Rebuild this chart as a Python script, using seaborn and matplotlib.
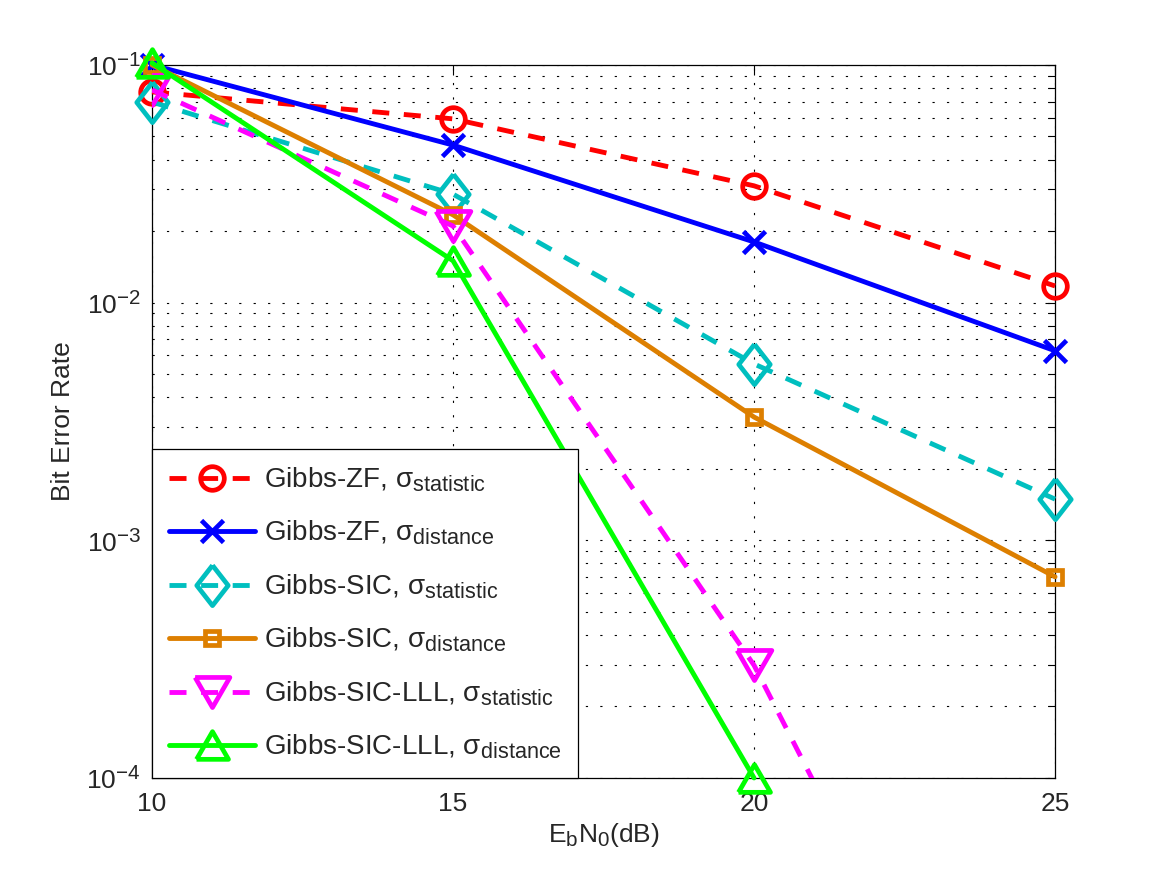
import numpy as np
import matplotlib
matplotlib.use("Agg")
import matplotlib.pyplot as plt
from matplotlib.ticker import LogLocator, NullFormatter, FixedLocator
import seaborn as sns

try:
    # MATLAB-style sub/superscripts are larger than mathtext's default
    import matplotlib._mathtext as _mt
    _mt.SHRINK_FACTOR = 0.78
except Exception:
    pass

# values (BER vs Eb/N0)
ebn0 = [10, 15, 20, 25]
zf_stat = [0.0770, 0.0593, 0.0310, 0.01175]
zf_dist = [0.1000, 0.0460, 0.0180, 0.00627]
sic_stat = [0.0698, 0.0286, 0.00552, 0.00149]
sic_dist = [0.1000, 0.0234, 0.00330, 0.000702]
lll_stat = [0.0785, 0.0210, 0.000298, 1.0e-6]
lll_dist = [0.1020, 0.0150, 0.000100, np.nan]

labels = [
    r"Gibbs-ZF, $\sigma_{statistic}$",
    r"Gibbs-ZF, $\sigma_{distance}$",
    r"Gibbs-SIC, $\sigma_{statistic}$",
    r"Gibbs-SIC, $\sigma_{distance}$",
    r"Gibbs-SIC-LLL, $\sigma_{statistic}$",
    r"Gibbs-SIC-LLL, $\sigma_{distance}$",
]

sns.set_theme(style="white")
plt.rcParams["font.family"] = ["Liberation Sans", "DejaVu Sans"]
plt.rcParams["mathtext.fontset"] = "custom"
plt.rcParams["mathtext.rm"] = "Liberation Sans"
plt.rcParams["mathtext.it"] = "Liberation Sans"
plt.rcParams["mathtext.default"] = "regular"

diamond = [(0, 1), (0.78, 0), (0, -1), (-0.78, 0), (0, 1)]
tri_down = [(-1, 0.866), (1, 0.866), (0, -0.866), (-1, 0.866)]
tri_up = [(-1, -0.866), (1, -0.866), (0, 0.866), (-1, -0.866)]
dash = (0, (3.5, 3.0))

series = [
    (zf_stat, "#ff0000", "o", 17, dash, False),
    (zf_dist, "#0000ff", "x", 16, "-", False),
    (sic_stat, "#00bfbf", diamond, 29, dash, False),
    (sic_dist, "#dd7f00", "s", 10, "-", False),
    (lll_stat, "#ff00ff", tri_down, 25, dash, True),
    (lll_dist, "#00ff00", tri_up, 23, "-", False),
]

fig = plt.figure(figsize=(11.64, 8.75), dpi=100)
ax = fig.add_axes([0.1306, 0.1109, 0.7758, 0.8149])
ax.set_yscale("log")

for (vals, col, mk, ms, ls, clip), lab in zip(series, labels):
    sns.lineplot(x=ebn0, y=vals, ax=ax, color=col, marker=mk, markersize=ms,
                 markeredgewidth=3.4, markeredgecolor=col, markerfacecolor="none",
                 linewidth=3.5, linestyle=ls, label=lab, clip_on=clip,
                 estimator=None, errorbar=None, zorder=3)

ax.set_xlim(10, 25)
ax.set_ylim(1e-4, 1e-1)
ax.xaxis.set_major_locator(FixedLocator(ebn0))
ax.yaxis.set_major_locator(LogLocator(base=10, numticks=10))
ax.yaxis.set_minor_locator(LogLocator(base=10, subs=np.arange(2, 10), numticks=10))
ax.yaxis.set_minor_formatter(NullFormatter())

grid_kw = dict(color="black", linewidth=0.8, linestyle=(0, (2, 11)))
ax.grid(True, which="both", axis="y", **grid_kw)
ax.grid(True, which="major", axis="x", **grid_kw)
ax.set_axisbelow(True)

ax.tick_params(which="both", direction="in", top=True, right=True, color="black")
ax.tick_params(which="major", length=7, width=0.8)
ax.tick_params(which="minor", length=4, width=0.8)
ax.tick_params(axis="x", labelsize=19, pad=10)
ax.tick_params(axis="y", labelsize=19, pad=8)
for sp in ax.spines.values():
    sp.set_color("black")
    sp.set_linewidth(0.9)

ax.set_xlabel(r"$E_bN_0$(dB)", fontsize=19, labelpad=4)
ax.set_ylabel("Bit Error Rate", fontsize=19, labelpad=8)

leg = ax.legend(loc="lower left", bbox_to_anchor=(0, 0), borderaxespad=0,
                fontsize=20, handlelength=3.1, handletextpad=0.32,
                labelspacing=0.9, borderpad=0.6, fancybox=False,
                framealpha=1, edgecolor="black")
leg.get_frame().set_linewidth(0.9)
leg.set_zorder(10)

fig.savefig("out.png", dpi=100, facecolor="white")
